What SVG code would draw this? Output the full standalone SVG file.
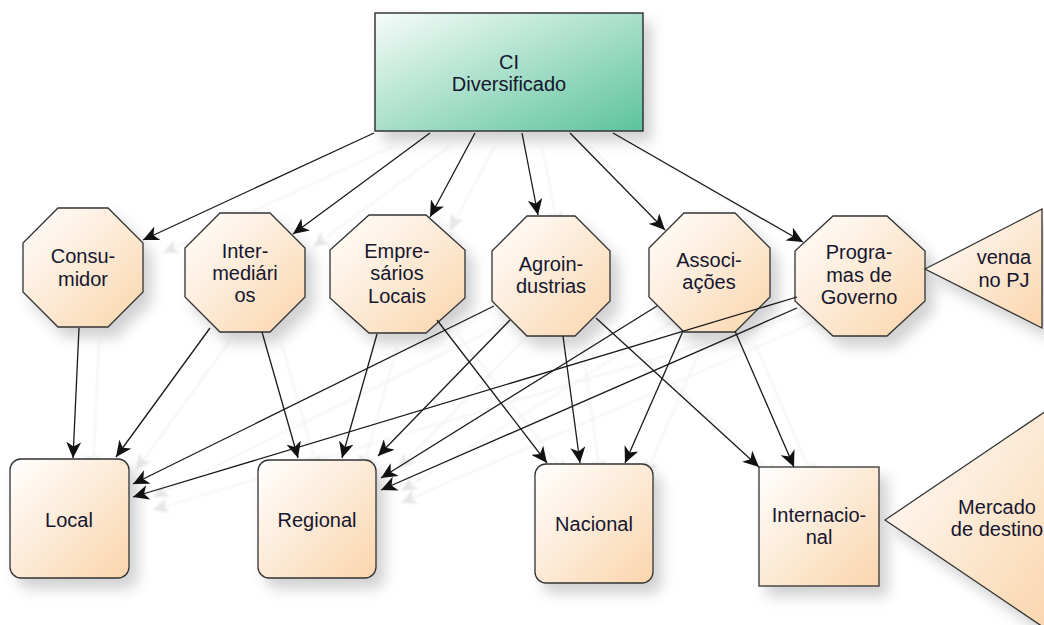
<svg xmlns="http://www.w3.org/2000/svg" width="1044" height="625" viewBox="0 0 1044 625">
  <defs>
    <linearGradient id="peach" x1="0" y1="0" x2="1" y2="1">
      <stop offset="0" stop-color="#ffffff"/>
      <stop offset="1" stop-color="#fad5ac"/>
    </linearGradient>
    <linearGradient id="mint" x1="0" y1="0" x2="1" y2="1">
      <stop offset="0" stop-color="#f6fcf9"/>
      <stop offset="1" stop-color="#5cc39c"/>
    </linearGradient>
    <filter id="shadow" x="-20%" y="-20%" width="150%" height="150%">
      <feDropShadow dx="8" dy="10" stdDeviation="7" flood-color="#000" flood-opacity="0.18"/>
    </filter>
    <filter id="soft" x="-5%" y="-5%" width="110%" height="110%">
      <feGaussianBlur stdDeviation="1"/>
    </filter>
    <marker id="arrow" markerUnits="userSpaceOnUse" markerWidth="17" markerHeight="15" refX="16" refY="7.5" orient="auto">
      <path d="M0,0 L16,7.5 L0,15 L4.5,7.5 Z" fill="#111"/>
    </marker>
    <marker id="arrow-ghost" markerUnits="userSpaceOnUse" markerWidth="17" markerHeight="15" refX="16" refY="7.5" orient="auto">
      <path d="M0,0 L16,7.5 L0,15 L4.5,7.5 Z" fill="#e6e6e6"/>
    </marker>
    <clipPath id="clip-venda">
      <rect x="920" y="253" width="124" height="60"/>
    </clipPath>
  </defs>
  <style>
    .node { fill: url(#peach); stroke: #333; stroke-width: 1.3; filter: url(#shadow); }
    .label { font-family: "Liberation Sans", Arial, sans-serif; font-size: 20px; fill: #16162e; text-anchor: middle; }
    .edge { fill: none; stroke: #1a1a1a; stroke-width: 1.3; marker-end: url(#arrow); }
    .ghost { fill: none; stroke: #eeeeee; stroke-width: 1.3; marker-end: url(#arrow-ghost); }
  </style>

  <rect width="1044" height="625" fill="#ffffff"/>

  <!-- faint connector shadows -->
  <g id="edge-shadows" transform="translate(20,13)" filter="url(#soft)">
    <path class="ghost" d="M374,133 L143,240"/>
    <path class="ghost" d="M430,133 L293,234"/>
    <path class="ghost" d="M475,133 L430,217"/>
    <path class="ghost" d="M522,133 L538,215"/>
    <path class="ghost" d="M570,133 L665,230"/>
    <path class="ghost" d="M613,133 L803,242"/>
    <path class="ghost" d="M79,328 L73,458"/>
    <path class="ghost" d="M210,328 L116,457"/>
    <path class="ghost" d="M262,332 L298,458"/>
    <path class="ghost" d="M377,334 L342,458"/>
    <path class="ghost" d="M437,320 L547,463"/>
    <path class="ghost" d="M494,306 L133,484"/>
    <path class="ghost" d="M510,320 L378,456"/>
    <path class="ghost" d="M563,336 L580,463"/>
    <path class="ghost" d="M596,318 L759,467"/>
    <path class="ghost" d="M657,306 L381,478"/>
    <path class="ghost" d="M683,331 L625,463"/>
    <path class="ghost" d="M735,331 L794,467"/>
    <path class="ghost" d="M797,297 L133,497"/>
    <path class="ghost" d="M797,308 L381,490"/>
  </g>

  <!-- top node -->
  <g id="ci">
    <rect x="375" y="13" width="268" height="118" fill="url(#mint)" stroke="#2b2b2b" stroke-width="1.4" filter="url(#shadow)"/>
    <text class="label" x="509" y="69">CI</text>
    <text class="label" x="509" y="91">Diversificado</text>
  </g>

  <!-- actor octagons -->
  <g id="consumidor">
    <polygon class="node" points="58,208 108,208 143,243 143,292 108,327 58,327 23,292 23,243"/>
    <text class="label" x="83" y="263">Consu-</text>
    <text class="label" x="83" y="286">midor</text>
  </g>
  <g id="intermediarios">
    <polygon class="node" points="220,213 270,213 305,248 305,297 270,332 220,332 185,297 185,248"/>
    <text class="label" x="245" y="258">Inter-</text>
    <text class="label" x="245" y="280">mediári</text>
    <text class="label" x="245" y="302">os</text>
  </g>
  <g id="empresarios">
    <polygon class="node" points="369,215 426,215 465,250 465,298 426,333 369,333 330,298 330,250"/>
    <text class="label" x="397" y="258">Empre-</text>
    <text class="label" x="397" y="280">sários</text>
    <text class="label" x="397" y="303">Locais</text>
  </g>
  <g id="agroindustrias">
    <polygon class="node" points="527,216 575,216 610,251 610,301 575,336 527,336 492,301 492,251"/>
    <text class="label" x="551" y="271">Agroin-</text>
    <text class="label" x="551" y="293">dustrias</text>
  </g>
  <g id="associacoes">
    <polygon class="node" points="684,213 735,213 770,248 770,297 735,332 684,332 649,297 649,248"/>
    <text class="label" x="709" y="267">Associ-</text>
    <text class="label" x="709" y="289">ações</text>
  </g>
  <g id="programas">
    <polygon class="node" points="833,216 887,216 925,251 925,301 887,336 833,336 795,301 795,251"/>
    <text class="label" x="859" y="259">Progra-</text>
    <text class="label" x="859" y="282">mas de</text>
    <text class="label" x="859" y="304">Governo</text>
  </g>
  <g id="venda-pj">
    <polygon class="node" points="925,269 1042,209 1042,328"/>
    <text class="label" x="1004" y="264" clip-path="url(#clip-venda)">venda</text>
    <text class="label" x="1004" y="287">no PJ</text>
  </g>

  <!-- market boxes -->
  <g id="local">
    <rect class="node" x="10" y="459" width="119" height="119" rx="11"/>
    <text class="label" x="69" y="527">Local</text>
  </g>
  <g id="regional">
    <rect class="node" x="258" y="460" width="118" height="118" rx="11"/>
    <text class="label" x="317" y="527">Regional</text>
  </g>
  <g id="nacional">
    <rect class="node" x="535" y="464" width="118" height="119" rx="11"/>
    <text class="label" x="594" y="531">Nacional</text>
  </g>
  <g id="internacional">
    <rect class="node" x="759" y="467" width="120" height="119" stroke="#111" stroke-width="1.6"/>
    <text class="label" x="819" y="522">Internacio-</text>
    <text class="label" x="819" y="544">nal</text>
  </g>
  <g id="mercado-destino">
    <polygon class="node" points="885,520 1052,407 1052,633"/>
    <text class="label" x="997" y="514">Mercado</text>
    <text class="label" x="997" y="536">de destino</text>
  </g>

  <!-- connectors -->
  <g id="edges">
    <path class="edge" d="M374,133 L143,240"/>
    <path class="edge" d="M430,133 L293,234"/>
    <path class="edge" d="M475,133 L430,217"/>
    <path class="edge" d="M522,133 L538,215"/>
    <path class="edge" d="M570,133 L665,230"/>
    <path class="edge" d="M613,133 L803,242"/>
    <path class="edge" d="M79,328 L73,458"/>
    <path class="edge" d="M210,328 L116,457"/>
    <path class="edge" d="M262,332 L298,458"/>
    <path class="edge" d="M377,334 L342,458"/>
    <path class="edge" d="M437,320 L547,463"/>
    <path class="edge" d="M494,306 L133,484"/>
    <path class="edge" d="M510,320 L378,456"/>
    <path class="edge" d="M563,336 L580,463"/>
    <path class="edge" d="M596,318 L759,467"/>
    <path class="edge" d="M657,306 L381,478"/>
    <path class="edge" d="M683,331 L625,463"/>
    <path class="edge" d="M735,331 L794,467"/>
    <path class="edge" d="M797,297 L133,497"/>
    <path class="edge" d="M797,308 L381,490"/>
  </g>
</svg>
